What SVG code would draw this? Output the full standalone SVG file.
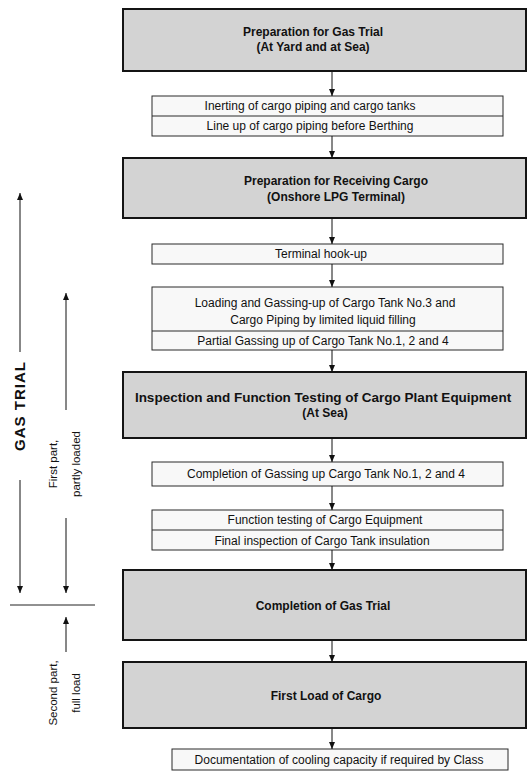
<svg xmlns="http://www.w3.org/2000/svg" width="527" height="771" viewBox="0 0 527 771">
<style>
.big{stroke:#141414;stroke-width:2;fill:#d3d3d3}
.small{stroke:#2a2a2a;stroke-width:1;fill:#f8f8f8}
.div{stroke:#2a2a2a;stroke-width:1}
.t{font-family:"Liberation Sans",Arial,sans-serif;font-size:12px;fill:#111;text-anchor:middle}
.b{font-family:"Liberation Sans",Arial,sans-serif;font-size:12px;font-weight:bold;fill:#111;text-anchor:middle}
.l{font-family:"Liberation Sans",Arial,sans-serif;font-size:11.5px;fill:#111;text-anchor:middle}
.conn{stroke:#111;stroke-width:1;fill:none;marker-end:url(#ah)}
.side{stroke:#222;stroke-width:1;fill:none}
</style>
<defs>
<marker id="ah" markerWidth="8" markerHeight="8" refX="7" refY="4" orient="auto" markerUnits="userSpaceOnUse">
<path d="M0,1 L7,4 L0,7 Z" fill="#111"/>
</marker>
</defs>
<rect width="527" height="771" fill="#ffffff"/>

<g id="n1">
<rect class="big" x="123" y="9" width="403" height="62"/>
<text class="b" x="313" y="36">Preparation for Gas Trial</text>
<text class="b" x="313" y="51">(At Yard and at Sea)</text>
</g>
<g id="n2">
<rect class="small" x="152" y="96" width="351" height="40"/>
<line class="div" x1="152" y1="116" x2="503" y2="116"/>
<text class="t" x="310" y="110">Inerting of cargo piping and cargo tanks</text>
<text class="t" x="310" y="130">Line up of cargo piping before Berthing</text>
</g>
<g id="n3">
<rect class="big" x="123" y="158" width="403" height="60"/>
<text class="b" x="336" y="185">Preparation for Receiving Cargo</text>
<text class="b" x="336" y="201">(Onshore LPG Terminal)</text>
</g>
<g id="n4">
<rect class="small" x="152" y="244" width="351" height="20"/>
<text class="t" x="321" y="258">Terminal hook-up</text>
</g>
<g id="n5">
<rect class="small" x="152" y="287" width="351" height="63"/>
<line class="div" x1="152" y1="331" x2="503" y2="331"/>
<text class="t" x="325" y="307">Loading and Gassing-up of Cargo Tank No.3 and</text>
<text class="t" x="323" y="324">Cargo Piping by limited liquid filling</text>
<text class="t" x="323" y="345">Partial Gassing up of Cargo Tank No.1, 2 and 4</text>
</g>
<g id="n6">
<rect class="big" x="123" y="372" width="403" height="66"/>
<text class="b" x="323" y="402" style="font-size:13.5px">Inspection and Function Testing of Cargo Plant Equipment</text>
<text class="b" x="325" y="417">(At Sea)</text>
</g>
<g id="n7">
<rect class="small" x="152" y="462" width="351" height="24"/>
<text class="t" x="326" y="478">Completion of Gassing up Cargo Tank No.1, 2 and 4</text>
</g>
<g id="n8">
<rect class="small" x="152" y="510" width="351" height="40"/>
<line class="div" x1="152" y1="530" x2="503" y2="530"/>
<text class="t" x="325" y="524">Function testing of Cargo Equipment</text>
<text class="t" x="322" y="545">Final inspection of Cargo Tank insulation</text>
</g>
<g id="n9">
<rect class="big" x="123" y="570" width="403" height="70"/>
<text class="b" x="323" y="610">Completion of Gas Trial</text>
</g>
<g id="n10">
<rect class="big" x="123" y="662" width="403" height="66"/>
<text class="b" x="326" y="700">First Load of Cargo</text>
</g>
<g id="n11">
<rect class="small" x="172" y="749" width="336" height="21"/>
<text class="t" x="339" y="764">Documentation of cooling capacity if required by Class</text>
</g>

<g id="connectors">
<line class="conn" x1="332" y1="72" x2="332" y2="96"/>
<line class="conn" x1="332" y1="136" x2="332" y2="158"/>
<line class="conn" x1="332" y1="219" x2="332" y2="244"/>
<line class="conn" x1="332" y1="264" x2="332" y2="287"/>
<line class="conn" x1="332" y1="350" x2="332" y2="372"/>
<line class="conn" x1="332" y1="439" x2="332" y2="462"/>
<line class="conn" x1="332" y1="486" x2="332" y2="510"/>
<line class="conn" x1="332" y1="550" x2="332" y2="570"/>
<line class="conn" x1="332" y1="641" x2="332" y2="662"/>
<line class="conn" x1="332" y1="729" x2="332" y2="749"/>
</g>

<g id="phases">
<line class="conn" x1="20" y1="352" x2="20" y2="193"/>
<line class="conn" x1="20" y1="480" x2="20" y2="593"/>
<text x="0" y="0" transform="translate(25,406) rotate(-90)" style="font-family:'Liberation Sans',Arial,sans-serif;font-size:15px;font-weight:bold;fill:#111;text-anchor:middle;letter-spacing:1px">GAS TRIAL</text>
<line class="conn" x1="66" y1="410" x2="66" y2="293"/>
<line class="conn" x1="66" y1="518" x2="66" y2="593"/>
<text class="l" transform="translate(57,464) rotate(-90)">First part,</text>
<text class="l" transform="translate(80,464) rotate(-90)">partly loaded</text>
<line class="side" x1="10" y1="605" x2="95" y2="605"/>
<line class="conn" x1="66" y1="652" x2="66" y2="617"/>
<text class="l" transform="translate(57,693) rotate(-90)">Second part,</text>
<text class="l" transform="translate(80,693) rotate(-90)">full load</text>
</g>
</svg>
